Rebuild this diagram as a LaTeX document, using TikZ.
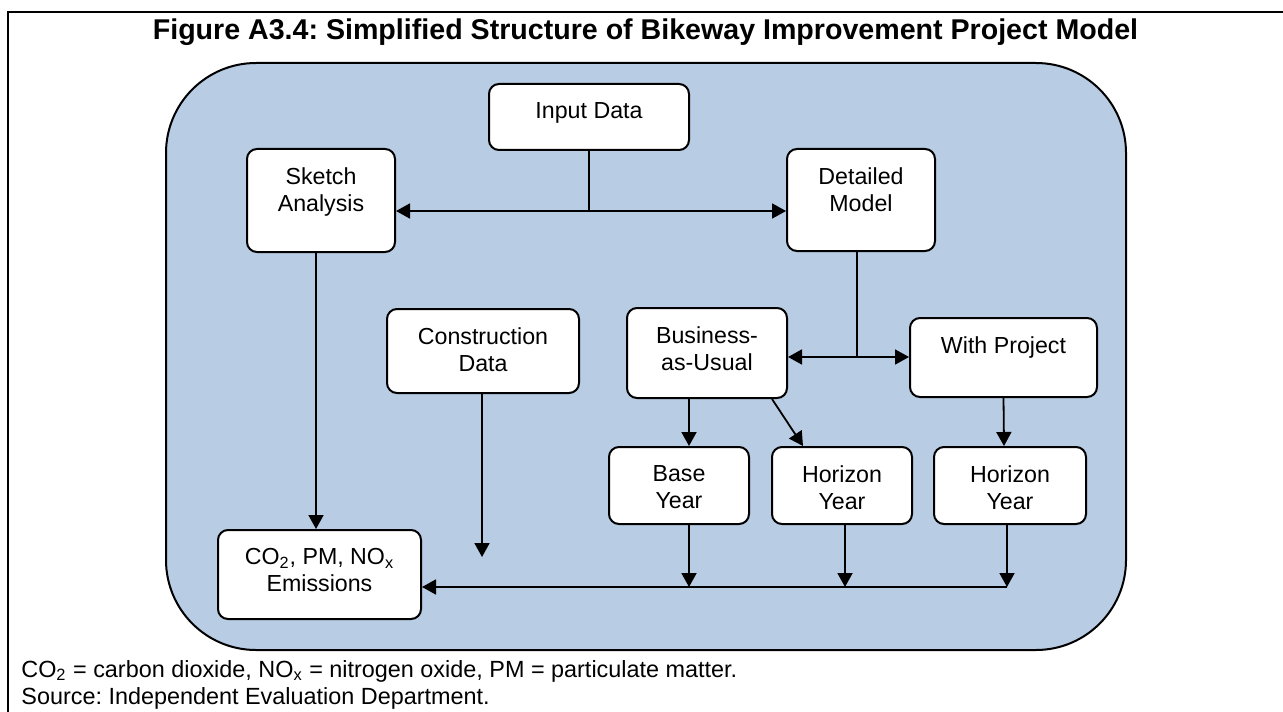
\documentclass[tikz,border=0pt]{standalone}
\usepackage{fontspec}
\setmainfont{Liberation Sans}
\usetikzlibrary{arrows.meta,fit,calc}
\definecolor{panelblue}{RGB}{184,204,228}
\frenchspacing
\begin{document}
\begin{tikzpicture}[x=0.5pt,y=-0.5pt,
  box/.style={draw,line width=1pt,fill=white,rounded corners=5pt,inner sep=0pt},
  txt/.style={anchor=north,inner sep=0pt,align=center,font=\fontsize{11.6}{13.5}\selectfont},
  arr/.style={line width=0.9pt,-{Triangle[length=7pt,width=7.5pt]}},
  darr/.style={line width=0.9pt,{Triangle[length=7pt,width=7.5pt]}-{Triangle[length=7pt,width=7.5pt]}},
  ln/.style={line width=0.9pt}]
\useasboundingbox (0,0) rectangle (1283,711);
% outer frame
\draw[line width=1pt] (1290,12) -- (8,12) -- (8,720);
% title
\node[anchor=base,inner sep=0pt,font=\fontsize{14.3}{17}\selectfont\bfseries] (title) at (645.5,40)
  {Figure A3.4: Simplified Structure of Bikeway Improvement Project Model};
% panel
\node[fit={(166,63) (1126,650)},inner sep=0pt,draw,line width=1pt,fill=panelblue,rounded corners=45pt] (panel) {};
% boxes
\node[box,fit={(489,84) (689,150)}] (inp) {};
\node[box,fit={(247,149) (395,252)}] (sk) {};
\node[box,fit={(787,149) (935,251)}] (dm) {};
\node[box,fit={(387,309) (579,393)}] (cd) {};
\node[box,fit={(627,308) (787,398)}] (bau) {};
\node[box,fit={(910,318) (1097,397)}] (wp) {};
\node[box,fit={(609,447) (749,524)}] (by) {};
\node[box,fit={(772,447) (912,524)}] (hy1) {};
\node[box,fit={(934,447) (1086,524)}] (hy2) {};
\node[box,fit={(218,530) (421,619)}] (em) {};
% texts
\node[txt] (tinp) at ($(inp.north)+(0,19)$) {Input Data};
\node[txt] (tsk) at ($(sk.north)+(0,19)$) {Sketch\\Analysis};
\node[txt] (tdm) at ($(dm.north)+(0,19)$) {Detailed\\Model};
\node[txt] (tcd) at ($(cd.north)+(0,19)$) {Construction\\Data};
\node[txt] (tbau) at ($(bau.north)+(0,19)$) {Business-\\as-Usual};
\node[txt] (twp) at ($(wp.north)+(0,19)$) {With Project};
\node[txt] (tby) at ($(by.north)+(0,19)$) {Base\\Year};
\node[txt] (thy1) at ($(hy1.north)+(0,19)$) {Horizon\\Year};
\node[txt] (thy2) at ($(hy2.north)+(0,19)$) {Horizon\\Year};
\node[txt] (tem) at ($(em.north)+(0,19)$) {CO\textsubscript{2}, PM, NO\textsubscript{x}\\Emissions};
% connectors
\coordinate (j1) at (589,211);
\draw[ln] (inp.south) -- (inp.south |- j1);
\draw[darr] (sk.east |- j1) -- (dm.west |- j1);
\coordinate (j2) at (857,357);
\draw[ln] (j2 |- dm.south) -- (j2);
\draw[darr] (bau.east |- j2) -- (wp.west |- j2);
\coordinate (s1) at (316,0);
\draw[arr] (s1 |- sk.south) -- (s1 |- em.north);
\coordinate (ctip) at (482,557);
\draw[arr] (ctip |- cd.south) -- (ctip);
\coordinate (x1) at (689,0);
\draw[arr] (x1 |- bau.south) -- (x1 |- by.north);
\draw[arr] ($(bau.south east)+(-16,0)$) -- ($(hy1.north west)+(32,0)$);
\draw[arr] (wp.south) -- ($(hy2.north)+(-6,0)$);
\coordinate (bus) at (1007,587);
\draw[arr] (x1 |- by.south) -- (x1 |- bus);
\coordinate (x2) at (845,0);
\draw[arr] (x2 |- hy1.south) -- (x2 |- bus);
\draw[arr] (bus |- hy2.south) -- (bus);
\draw[arr] (bus) -- (em.east |- bus);
% footnote
\node[anchor=base west,inner sep=0pt,font=\fontsize{11.7}{13.5}\selectfont] (fn1) at (21,677)
  {CO\textsubscript{2} = carbon dioxide, NO\textsubscript{x} = nitrogen oxide, PM = particulate matter.};
\node[anchor=base west,inner sep=0pt,font=\fontsize{11.7}{13.5}\selectfont] (fn2) at (21,704)
  {Source: Independent Evaluation Department.};
\end{tikzpicture}
\end{document}
